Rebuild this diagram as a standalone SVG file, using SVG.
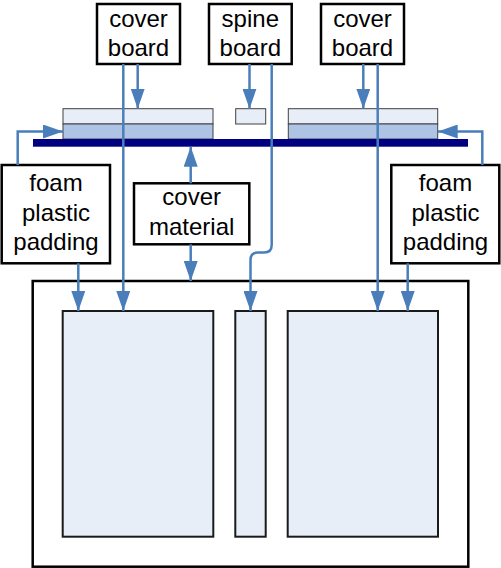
<svg xmlns="http://www.w3.org/2000/svg" width="501" height="568" viewBox="0 0 501 568">
<style>
.box{fill:#fff;stroke:#000;stroke-width:2.5}
.lbl{font-family:"Liberation Sans",Arial,sans-serif;font-size:24px;fill:#000;text-anchor:middle}
.panel{fill:#e8eef8;stroke:#1a1a1a;stroke-width:2}
.bt{fill:#e8eef8;stroke:#404040;stroke-width:1}
.bb{fill:#afc4e4;stroke:#404040;stroke-width:1}
.con{fill:none;stroke:#4a7ebb;stroke-width:2.5}
.arr{marker-end:url(#ah)}
</style>
<defs>
<marker id="ah" markerUnits="userSpaceOnUse" viewBox="0 0 20 14" refX="20" refY="7" markerWidth="20" markerHeight="14" orient="auto">
<path d="M0,0 L20,7 L0,14 Z" fill="#4a7ebb"/>
</marker>
</defs>
<g id="book-frame">
<rect x="32.7" y="281" width="435.6" height="285.7" fill="#fff" stroke="#000" stroke-width="2.5"/>
<rect class="panel" x="62.7" y="311" width="150.6" height="225.7"/>
<rect class="panel" x="235.3" y="311" width="30.4" height="225.7"/>
<rect class="panel" x="287.7" y="311" width="150.3" height="225.7"/>
</g>
<g id="assembly">
<rect class="bt" x="63" y="108.7" width="150" height="15.3"/>
<rect class="bb" x="63" y="124" width="150" height="15"/>
<rect class="bt" x="235.7" y="108.7" width="30" height="15.3"/>
<rect class="bt" x="288.3" y="108.7" width="149.4" height="15.3"/>
<rect class="bb" x="288.3" y="124" width="149.4" height="15"/>
<rect x="33" y="139" width="435" height="7.7" fill="#000080"/>
</g>
<g id="cover-board-left">
<rect class="box" x="97" y="4" width="83" height="60"/>
<text class="lbl" x="138.5" y="26.7">cover</text>
<text class="lbl" x="138.5" y="56">board</text>
</g>
<g id="spine-board">
<rect class="box" x="209" y="4" width="82.7" height="60"/>
<text class="lbl" x="250.3" y="26.7">spine</text>
<text class="lbl" x="250.3" y="56">board</text>
</g>
<g id="cover-board-right">
<rect class="box" x="321" y="4" width="83" height="60"/>
<text class="lbl" x="362.5" y="26.7">cover</text>
<text class="lbl" x="362.5" y="56">board</text>
</g>
<g id="foam-left">
<rect class="box" x="1.7" y="165" width="108.3" height="98.3"/>
<text class="lbl" x="56" y="190.7">foam</text>
<text class="lbl" x="56" y="220.5">plastic</text>
<text class="lbl" x="56" y="250">padding</text>
</g>
<g id="cover-material">
<rect class="box" x="134" y="183.3" width="115.3" height="61"/>
<text class="lbl" x="191.7" y="205">cover</text>
<text class="lbl" x="191.7" y="235">material</text>
</g>
<g id="foam-right">
<rect class="box" x="391.3" y="165" width="108" height="98.3"/>
<text class="lbl" x="445.5" y="190.7">foam</text>
<text class="lbl" x="445.5" y="220.5">plastic</text>
<text class="lbl" x="445.5" y="250">padding</text>
</g>
<g id="connectors">
<path class="con arr" d="M137.7,64 V108.7"/>
<path class="con arr" d="M123.3,64 V311"/>
<path class="con arr" d="M249.5,64 V108.7"/>
<path class="con arr" d="M271.7,64 V245 Q271.7,252.5 264,252.5 H258 Q250.5,252.5 250.5,260 V311"/>
<path class="con arr" d="M363.3,64 V108.7"/>
<path class="con arr" d="M377.7,64 V311"/>
<path class="con arr" d="M17.7,165 V131.5 H63"/>
<path class="con arr" d="M482.3,165 V131.5 H437.7"/>
<path class="con arr" d="M190.7,183.3 V146.7"/>
<path class="con arr" d="M190.7,244.3 V281"/>
<path class="con arr" d="M78.3,263.3 V311"/>
<path class="con arr" d="M407.7,263.3 V311"/>
</g>
</svg>
